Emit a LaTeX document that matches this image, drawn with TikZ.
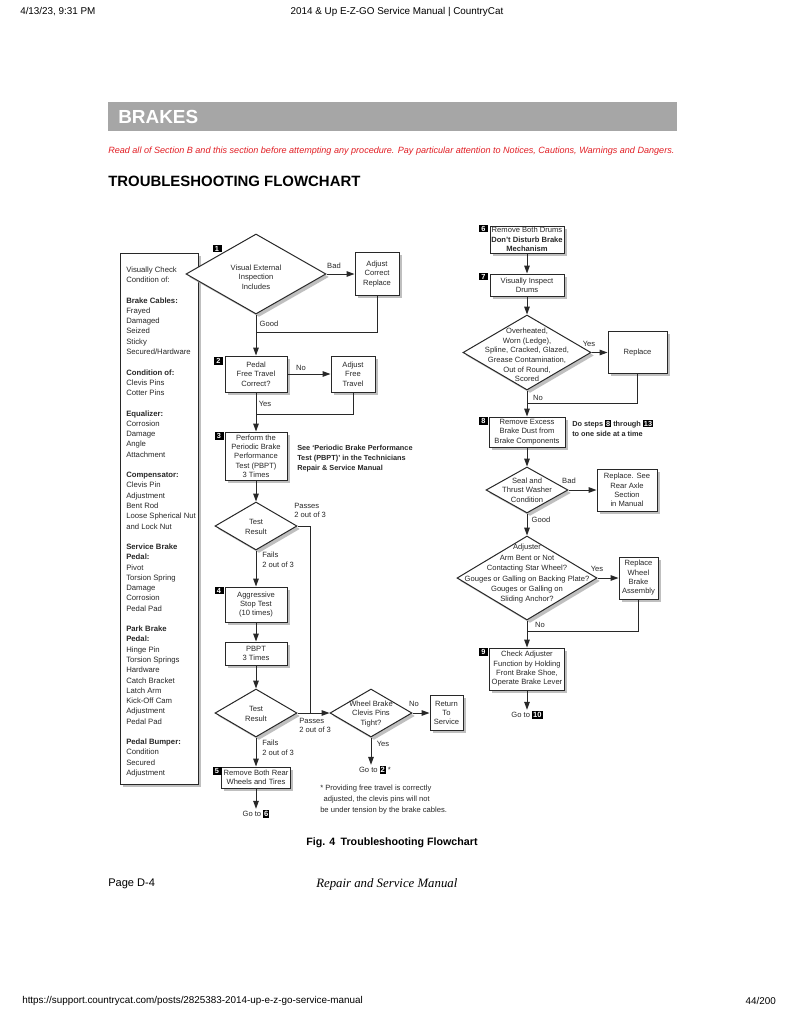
\documentclass[tikz,border=0pt]{standalone}
\usepackage{fontspec}
\setmainfont{Liberation Sans}
\newfontfamily\timesf{Liberation Serif}
\usetikzlibrary{shapes.geometric,arrows.meta,shadows}
\definecolor{bannergray}{RGB}{166,166,166}
\definecolor{warnred}{RGB}{226,30,36}
\definecolor{ink}{RGB}{40,40,40}
\newcommand\snum[1]{{\setlength{\fboxsep}{0.7pt}\colorbox{black}{\textcolor{white}{\bfseries #1}}}}
\begin{document}
\begin{tikzpicture}[x=0.75pt,y=-0.75pt,
  fc/.style={font=\fontsize{5.7}{7}\selectfont, text=ink},
  lc/.style={font=\fontsize{5.8}{7.7}\selectfont, text=ink},
  ln/.style={draw=ink, line width=0.75pt},
  arr/.style={ln, -{Triangle[length=6pt,width=4.2pt]}},
  shad/.style={drop shadow={shadow xshift=2.2pt,shadow yshift=-2.2pt,fill=black!25,opacity=1}},
  box/.style 2 args={draw=ink, line width=0.75pt, fill=white, shad, minimum width=#1*0.75pt, minimum height=#2*0.75pt, inner sep=0pt, align=center, fc},
  dia/.style 2 args={diamond, draw=ink, line width=0.75pt, fill=white, shad, minimum width=#1*0.75pt, minimum height=#2*0.75pt, inner sep=0pt},
  dtext/.style={fc, align=center, inner sep=0pt},
  lbl/.style={fc, inner sep=0pt},
  stepno/.style={fill=black, text=white, font=\bfseries\fontsize{5.5}{6}\selectfont, inner sep=0pt, minimum width=9*0.75pt, minimum height=7.5*0.75pt},
  hdr/.style={font=\fontsize{7.4}{9}\selectfont, inner sep=0pt},
]
\useasboundingbox (0,0) rectangle (794,1028);
\fill[white] (0,0) rectangle (794,1028);

% page header / footer
\node[hdr, anchor=west] (hdate) at (20,12) {4/13/23, 9:31 PM};
\node[hdr] (htitle) at (397,12) {2014 \& Up E-Z-GO Service Manual | CountryCat};
\node[hdr, anchor=west] (furl) at (22,1001) {https://support.countrycat.com/posts/2825383-2014-up-e-z-go-service-manual};
\node[hdr, anchor=east] (fpage) at (776,1001) {44/200};

% banner
\node[fill=bannergray, minimum width=569*0.75pt, minimum height=29*0.75pt, inner sep=0pt, anchor=north west] (banner) at (108,102) {};
\node[anchor=west, text=white, font=\bfseries\fontsize{14.2}{16}\selectfont, inner sep=0pt] (btitle) at (118,116.5) {BRAKES};
\node[anchor=west, text=warnred, font=\itshape\fontsize{6.8}{8}\selectfont, inner sep=0pt] (warn) at (108,151) {Read all of Section B and this section before attempting any procedure. Pay particular attention to Notices, Cautions, Warnings and Dangers.};
\node[anchor=west, font=\bfseries\fontsize{11.2}{13}\selectfont, inner sep=0pt] (tsf) at (108,181) {TROUBLESHOOTING FLOWCHART};

% left column
\node[box={78}{531}] (lcol) at (159,518.5) {};
\node[lc, anchor=north west, align=left, inner sep=0pt] (lct) at (126,266.5) {Visually Check\\Condition of:\\[7.7pt]
\textbf{Brake Cables:}\\Frayed\\Damaged\\Seized\\Sticky\\Secured/Hardware\\[7.7pt]
\textbf{Condition of:}\\Clevis Pins\\Cotter Pins\\[7.7pt]
\textbf{Equalizer:}\\Corrosion\\Damage\\Angle\\Attachment\\[7.7pt]
\textbf{Compensator:}\\Clevis Pin\\Adjustment\\Bent Rod\\Loose Spherical Nut\\and Lock Nut\\[7.7pt]
\textbf{Service Brake}\\\textbf{Pedal:}\\Pivot\\Torsion Spring\\Damage\\Corrosion\\Pedal Pad\\[7.7pt]
\textbf{Park Brake}\\\textbf{Pedal:}\\Hinge Pin\\Torsion Springs\\Hardware\\Catch Bracket\\Latch Arm\\Kick-Off Cam\\Adjustment\\Pedal Pad\\[7.7pt]
\textbf{Pedal Bumper:}\\Condition\\Secured\\Adjustment};

% centre column
\node[dia={140}{80}] (d1) at (256,274) {};
\node[dtext] (d1t) at (256,277) {Visual External\\Inspection\\Includes};
\node[stepno] (s1) at (217,248.5) {1};
\node[box={44}{43}] (adj) at (377,274) {Adjust\\Correct\\Replace};
\coordinate (j1) at (256,332);

\node[box={62}{36}] (b2) at (256,374) {Pedal\\Free Travel\\Correct?};
\node[stepno] (s2) at (218.5,361) {2};
\node[box={44}{36}] (aft) at (353,374) {Adjust\\Free\\Travel};
\coordinate (j2) at (256,414);

\node[box={62}{48}] (b3) at (256,456) {Perform the\\Periodic Brake\\Performance\\Test (PBPT)\\3 Times};
\node[stepno] (s3) at (219,436) {3};
\node[fc, font=\bfseries\fontsize{5.5}{7.5}\selectfont, anchor=north west, align=left, inner sep=0pt] (note3) at (297,445) {See ‘Periodic Brake Performance\\Test (PBPT)’ in the Technicians\\Repair \& Service Manual};

\node[dia={82}{48}] (t1) at (256,526) {};
\node[dtext] (t1t) at (256,527) {Test\\Result};
\coordinate (c1) at (310,713);

\node[box={62}{35}] (b4) at (256,604.5) {Aggressive\\Stop Test\\(10 times)};
\node[stepno] (s4) at (219,590.5) {4};
\node[box={62}{23}] (pbpt) at (256,653.5) {PBPT\\3 Times};

\node[dia={82}{48}] (t2) at (256,713) {};
\node[dtext] (t2t) at (256,714) {Test\\Result};

\node[box={69}{21}] (b5) at (256,777.5) {Remove Both Rear\\Wheels and Tires};
\node[stepno] (s5) at (217,771) {5};
\node[fc, inner sep=1pt] (go6) at (256,814) {Go to \snum{6}};

\node[dia={82}{48}] (wb) at (371,713) {};
\node[dtext] (wbt) at (371,714) {Wheel Brake\\Clevis Pins\\Tight?};
\node[box={33}{35}] (rts) at (446.5,713) {Return\\To\\Service};
\node[fc, inner sep=1pt] (go2) at (375,770) {Go to \snum{2} *};
\node[fc, font=\fontsize{5.7}{8.2}\selectfont, anchor=north west, align=left, inner sep=0pt] (fn) at (320,785) {* Providing free travel is correctly\\\hspace{2.5pt}adjusted, the clevis pins will not\\be under tension by the brake cables.};

% centre labels
\node[lbl] (lbad1) at (334,266) {Bad};
\node[lbl] (lgood1) at (269,324) {Good};
\node[lbl] (lno2) at (301,368) {No};
\node[lbl] (lyes2) at (265,404) {Yes};
\node[lbl, anchor=north west, align=left] (lpass1) at (294,503) {Passes\\2 out of 3};
\node[lbl, anchor=north west, align=left] (lfail1) at (262,552) {Fails\\2 out of 3};
\node[lbl, anchor=north west, align=left] (lfail2) at (262,740) {Fails\\2 out of 3};
\node[lbl, anchor=north west, align=left] (lpass2) at (299,718) {Passes\\2 out of 3};
\node[lbl] (lnowb) at (414,704) {No};
\node[lbl] (lyeswb) at (383,744) {Yes};

% right column
\node[box={74}{27}] (b6) at (527,239.5) {Remove Both Drums\\\textbf{Don't Disturb Brake}\\\textbf{Mechanism}};
\node[stepno] (s6) at (483.5,228.5) {6};
\node[box={74}{22}] (b7) at (527,285) {Visually Inspect\\Drums};
\node[stepno] (s7) at (483.5,276.5) {7};

\node[dia={128}{75}] (dA) at (527,352.5) {};
\node[dtext, font=\fontsize{5.7}{7.2}\selectfont] (dAt) at (527,355) {Overheated,\\Worn (Ledge),\\Spline, Cracked, Glazed,\\Grease Contamination,\\Out of Round,\\Scored};
\node[box={59}{42}] (rep) at (637.5,352.5) {Replace};
\coordinate (j3) at (527,403);

\node[box={76}{30}] (b8) at (527,432) {Remove Excess\\Brake Dust from\\Brake Components};
\node[stepno] (s8) at (483.5,421) {8};
\node[fc, font=\bfseries\fontsize{5.5}{7.5}\selectfont, anchor=north west, align=left, inner sep=0pt] (note8) at (572,420) {Do steps \snum{8} through \snum{13}\\to one side at a time};

\node[dia={82}{46}] (ds) at (527,490) {};
\node[dtext] (dst) at (527,490) {Seal and\\Thrust Washer\\Condition};
\node[box={60}{42}] (rra) at (627,490) {Replace. See\\Rear Axle\\Section\\in Manual};

\node[dia={140}{84}] (dB) at (527,578) {};
\node[dtext, font=\fontsize{5.7}{7.8}\selectfont] (dBt) at (527,574) {Adjuster\\Arm Bent or Not\\Contacting Star Wheel?\\Gouges or Galling on Backing Plate?\\Gouges or Galling on\\Sliding Anchor?};
\node[box={39}{42}] (rwb) at (638.5,578) {Replace\\Wheel\\Brake\\Assembly};
\coordinate (j4) at (527,631);

\node[box={75}{42}] (b9) at (527,669) {Check Adjuster\\Function by Holding\\Front Brake Shoe,\\Operate Brake Lever};
\node[stepno] (s9) at (483.5,652) {9};
\node[fc, inner sep=1pt] (go10) at (527,715) {Go to \snum{10}};

% right labels
\node[lbl] (lyesA) at (589,344) {Yes};
\node[lbl] (lnoA) at (538,398) {No};
\node[lbl] (lbads) at (569,481) {Bad};
\node[lbl] (lgoods) at (541,520) {Good};
\node[lbl] (lyesB) at (597,569) {Yes};
\node[lbl] (lnoB) at (540,625) {No};

% connectors centre
\draw[arr] (d1.east) -- (adj.west);
\draw[ln] (adj.south) |- (j1);
\draw[arr] (d1.south) -- (b2.north);
\draw[arr] (b2.east) -- (aft.west);
\draw[ln] (aft.south) |- (j2);
\draw[arr] (b2.south) -- (b3.north);
\draw[arr] (b3.south) -- (t1.north);
\draw[ln] (t1.east) -| (c1);
\draw[arr] (t1.south) -- (b4.north);
\draw[arr] (b4.south) -- (pbpt.north);
\draw[arr] (pbpt.south) -- (t2.north);
\draw[arr] (t2.east) -- (wb.west);
\draw[arr] (t2.south) -- (b5.north);
\draw[arr] (b5.south) -- (go6.north);
\draw[arr] (wb.east) -- (rts.west);
\draw[arr] (wb.south) -- (wb.south |- go2.north);

% connectors right
\draw[arr] (b6.south) -- (b7.north);
\draw[arr] (b7.south) -- (dA.north);
\draw[arr] (dA.east) -- (rep.west);
\draw[ln] (rep.south) |- (j3);
\draw[arr] (dA.south) -- (b8.north);
\draw[arr] (b8.south) -- (ds.north);
\draw[arr] (ds.east) -- (rra.west);
\draw[arr] (ds.south) -- (dB.north);
\draw[arr] (dB.east) -- (rwb.west);
\draw[ln] (rwb.south) |- (j4);
\draw[arr] (dB.south) -- (b9.north);
\draw[arr] (b9.south) -- (go10.north);

% caption and page foot
\node[font=\bfseries\fontsize{8}{9}\selectfont, inner sep=0pt] (cap) at (392,843) {Fig. 4\enspace Troubleshooting Flowchart};
\node[anchor=west, font=\fontsize{8.3}{9}\selectfont, inner sep=0pt] (pg) at (108,884) {Page D-4};
\node[anchor=west, font=\timesf\itshape\fontsize{9.6}{11}\selectfont, inner sep=0pt] (rsm) at (316,884) {Repair and Service Manual};
\end{tikzpicture}
\end{document}
